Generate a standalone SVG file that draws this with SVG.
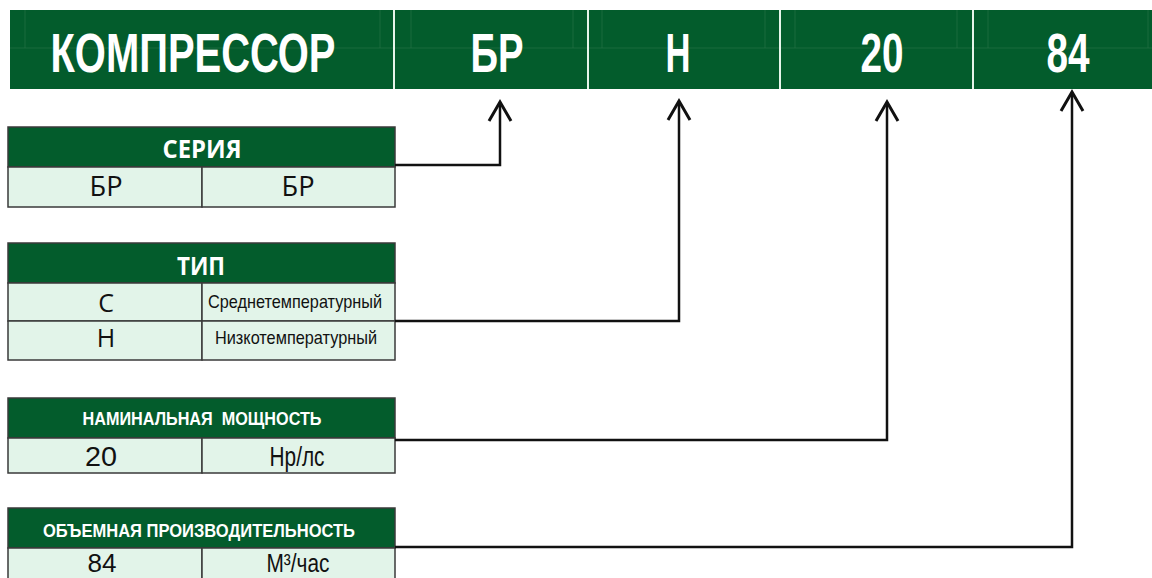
<svg xmlns="http://www.w3.org/2000/svg" width="1152" height="578" viewBox="0 0 1152 578">
<style>
.bar{fill:#035c2c}
.sep{stroke:#e6f5ea;stroke-width:2}
.grid{stroke:#2a7448;stroke-width:1;opacity:0.6}
.big{font-family:"Liberation Sans Narrow","Liberation Sans",Arial,sans-serif;font-weight:bold;fill:#ffffff;text-anchor:middle}
.hdr{fill:#035c2c;stroke:#3a3a3a;stroke-width:1.5}
.cell{fill:#e2f4e9;stroke:#3a3a3a;stroke-width:1.5}
.ht{font-family:"Open Sans","Noto Sans",sans-serif;font-weight:bold;fill:#ffffff;text-anchor:middle}
.hn{font-family:"Liberation Sans Narrow","Liberation Sans",Arial,sans-serif;font-weight:bold;fill:#ffffff;text-anchor:middle}
.ct{font-family:"Open Sans","Noto Sans",sans-serif;fill:#111;text-anchor:middle}
.cn{font-family:"Liberation Sans Narrow","Liberation Sans",Arial,sans-serif;fill:#111;text-anchor:middle}
.conn{fill:none;stroke:#111;stroke-width:2.5;marker-end:url(#arr)}
</style>
<defs>
<marker id="arr" viewBox="-22 -14 26 28" refX="0" refY="0" markerWidth="26" markerHeight="28" markerUnits="userSpaceOnUse" orient="auto">
<path d="M-19,-11 L0,0 L-19,11" fill="none" stroke="#111" stroke-width="3" stroke-linejoin="miter"/>
</marker>
</defs>
<rect width="1152" height="578" fill="#ffffff"/>

<g id="header">
<rect class="bar" x="10" y="10" width="1142" height="79"/>
<line class="grid" x1="10" y1="48" x2="1152" y2="48"/>
<line class="grid" x1="25" y1="10" x2="25" y2="48"/>
<line class="grid" x1="380" y1="10" x2="380" y2="48"/>
<line class="grid" x1="411" y1="10" x2="411" y2="48"/>
<line class="grid" x1="573" y1="10" x2="573" y2="48"/>
<line class="grid" x1="602" y1="10" x2="602" y2="48"/>
<line class="grid" x1="765" y1="10" x2="765" y2="48"/>
<line class="grid" x1="795" y1="10" x2="795" y2="48"/>
<line class="grid" x1="957" y1="10" x2="957" y2="48"/>
<line class="grid" x1="988" y1="10" x2="988" y2="48"/>
<line class="grid" x1="1148" y1="10" x2="1148" y2="48"/>
<line class="sep" x1="394" y1="10" x2="394" y2="89"/>
<line class="sep" x1="588" y1="10" x2="588" y2="89"/>
<line class="sep" x1="780" y1="10" x2="780" y2="89"/>
<line class="sep" x1="973" y1="10" x2="973" y2="89"/>
<text class="big" x="193" y="72" font-size="56" textLength="285" lengthAdjust="spacingAndGlyphs">КОМПРЕССОР</text>
<text class="big" x="497" y="72" font-size="56" textLength="53" lengthAdjust="spacingAndGlyphs">БР</text>
<text class="big" x="678" y="72" font-size="56" textLength="25" lengthAdjust="spacingAndGlyphs">Н</text>
<text class="big" x="882" y="72" font-size="56" textLength="43" lengthAdjust="spacingAndGlyphs">20</text>
<text class="big" x="1068" y="72" font-size="56" textLength="43" lengthAdjust="spacingAndGlyphs">84</text>
</g>

<g id="seria">
<rect class="hdr" x="8" y="127" width="387" height="40"/>
<rect class="cell" x="8" y="167" width="194" height="40"/>
<rect class="cell" x="202" y="167" width="193" height="40"/>
<text class="ht" x="202" y="158" font-size="25" textLength="79" lengthAdjust="spacingAndGlyphs">СЕРИЯ</text>
<text class="ct" x="106" y="196" font-size="28" textLength="33" lengthAdjust="spacingAndGlyphs">БР</text>
<text class="ct" x="298" y="196" font-size="28" textLength="33" lengthAdjust="spacingAndGlyphs">БР</text>
</g>

<g id="tip">
<rect class="hdr" x="8" y="243" width="387" height="40"/>
<rect class="cell" x="8" y="283" width="194" height="38"/>
<rect class="cell" x="202" y="283" width="193" height="38"/>
<rect class="cell" x="8" y="321" width="194" height="39"/>
<rect class="cell" x="202" y="321" width="193" height="39"/>
<text class="ht" x="201" y="275" font-size="25" textLength="48" lengthAdjust="spacingAndGlyphs">ТИП</text>
<text class="ct" x="106" y="312" font-size="25">С</text>
<text class="ct" x="106" y="347" font-size="25">Н</text>
<text class="cn" x="295" y="308" font-size="19" textLength="174" lengthAdjust="spacingAndGlyphs">Среднетемпературный</text>
<text class="cn" x="296" y="344" font-size="19" textLength="162" lengthAdjust="spacingAndGlyphs">Низкотемпературный</text>
</g>

<g id="moshnost">
<rect class="hdr" x="8" y="398" width="387" height="40"/>
<rect class="cell" x="8" y="438" width="194" height="35"/>
<rect class="cell" x="202" y="438" width="193" height="35"/>
<text class="hn" x="202" y="425" font-size="18" textLength="239" lengthAdjust="spacingAndGlyphs" xml:space="preserve">НАМИНАЛЬНАЯ  МОЩНОСТЬ</text>
<text class="cn" x="101" y="466" font-size="27" textLength="32" lengthAdjust="spacingAndGlyphs">20</text>
<text class="cn" x="297" y="466" font-size="27" textLength="55" lengthAdjust="spacingAndGlyphs">Нр/лс</text>
</g>

<g id="proizv">
<rect class="hdr" x="8" y="508" width="387" height="40"/>
<rect class="cell" x="8" y="548" width="194" height="36"/>
<rect class="cell" x="202" y="548" width="193" height="36"/>
<text class="hn" x="199" y="537" font-size="18" textLength="312" lengthAdjust="spacingAndGlyphs">ОБЪЕМНАЯ ПРОИЗВОДИТЕЛЬНОСТЬ</text>
<text class="cn" x="102" y="572" font-size="25" textLength="29" lengthAdjust="spacingAndGlyphs">84</text>
<text class="cn" x="298" y="572" font-size="25" textLength="63" lengthAdjust="spacingAndGlyphs">М³/час</text>
</g>

<g id="connectors">
<path class="conn" d="M395,165 H500 V102"/>
<path class="conn" d="M395,321 H679 V101"/>
<path class="conn" d="M395,440 H887 V102"/>
<path class="conn" d="M395,547 H1072 V92"/>
</g>
</svg>
